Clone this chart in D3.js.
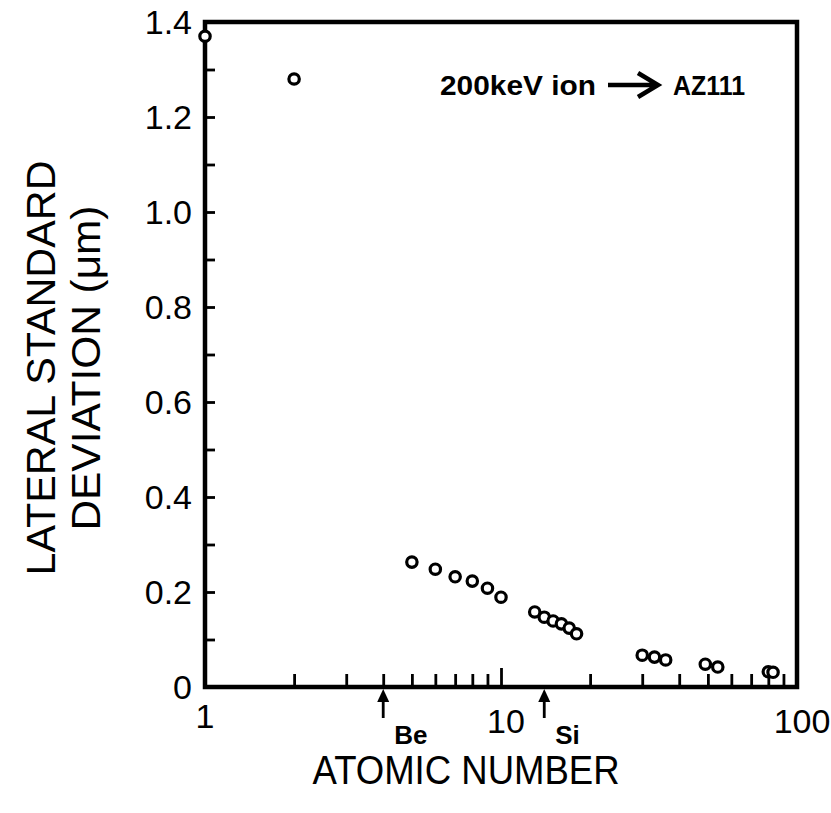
<!DOCTYPE html>
<html>
<head>
<meta charset="utf-8">
<script src="https://cdn.jsdelivr.net/npm/d3@7"></script>
<style>
  html, body { margin: 0; padding: 0; background: #fff; }
  svg { display: block; }
</style>
</head>
<body>
<svg id="chart" width="831" height="813"></svg>
<script>
// Lateral standard deviation of 200 keV ions implanted in AZ111 resist
const atomicNumber = [1, 2, 5, 6, 7, 8, 9, 10, 13, 14, 15, 16, 17, 18, 30, 33, 36, 49, 54, 80, 83];
const lateralStd   = [1.37, 1.28, 0.263, 0.248, 0.232, 0.223, 0.208, 0.189,
                      0.158, 0.147, 0.139, 0.133, 0.124, 0.112,
                      0.067, 0.063, 0.057, 0.048, 0.042, 0.032, 0.031];

const xTickLabels = ["1", "10", "100"];
const yTickLabels = ["0", "0.2", "0.4", "0.6", "0.8", "1.0", "1.2", "1.4"];
const markedElements = [{ name: "Be", z: 4 }, { name: "Si", z: 14 }];

const svg = d3.select("#chart");
const fontLight = "'Liberation Sans', Arial, sans-serif";

const x = d3.scaleLog().domain([1, 100]).range([205, 797]);
const y = d3.scaleLinear().domain([0, 1.4]).range([687, 22]);

svg.append("rect").attr("width", 831).attr("height", 813).attr("fill", "#fff");

// y ticks every 0.1, pointing inward
const yAxis = d3.axisLeft(y)
  .tickValues(d3.range(0, 15).map(i => i / 10))
  .tickSizeInner(-10).tickSizeOuter(0).tickFormat("");
svg.append("g").attr("transform", `translate(${x.range()[0]},0)`).call(yAxis)
  .call(g => g.select(".domain").remove())
  .call(g => g.selectAll("line").attr("stroke", "#000").attr("stroke-width", 2.8));

// x ticks: minor logarithmic ticks inward, longer at 10
const xMinor = [2,3,4,5,6,7,8,9,20,30,40,50,60,70,80,90];
const xMinorAxis = d3.axisBottom(x).tickValues(xMinor)
  .tickSizeInner(-13).tickSizeOuter(0).tickFormat("");
svg.append("g").attr("transform", `translate(0,${y(0)})`).call(xMinorAxis)
  .call(g => g.select(".domain").remove())
  .call(g => g.selectAll("line").attr("stroke", "#000").attr("stroke-width", 2.8));
const xMajorAxis = d3.axisBottom(x).tickValues([10])
  .tickSizeInner(-19).tickSizeOuter(0).tickFormat("");
svg.append("g").attr("transform", `translate(0,${y(0)})`).call(xMajorAxis)
  .call(g => g.select(".domain").remove())
  .call(g => g.selectAll("line").attr("stroke", "#000").attr("stroke-width", 2.8));

// frame
svg.append("rect")
  .attr("x", x(1)).attr("y", y(1.4))
  .attr("width", x(100) - x(1)).attr("height", y(0) - y(1.4))
  .attr("fill", "none").attr("stroke", "#000").attr("stroke-width", 4.5);

// y tick labels
svg.append("g").selectAll("text").data(yTickLabels).join("text")
  .attr("x", 192).attr("y", d => y(+d) + 12)
  .attr("text-anchor", "end")
  .attr("font-family", fontLight).attr("font-size", 34)
  .text(d => d);

// x tick labels
svg.append("g").selectAll("text").data(xTickLabels).join("text")
  .attr("x", d => x(+d) + (d === "1" ? 0 : 5))
  .attr("y", d => d === "1" ? 728 : 733)
  .attr("text-anchor", "middle")
  .attr("font-family", fontLight).attr("font-size", 34)
  .text(d => d);

// arrows marking Be and Si
const marks = svg.append("g");
markedElements.forEach(m => {
  const cx = x(m.z);
  marks.append("line").attr("x1", cx).attr("x2", cx)
    .attr("y1", 697).attr("y2", 718)
    .attr("stroke", "#000").attr("stroke-width", 2.8);
  marks.append("path")
    .attr("d", `M${cx},689 L${cx - 6},702 L${cx + 6},702 Z`)
    .attr("fill", "#000");
  marks.append("text")
    .attr("x", cx + 11).attr("y", 744)
    .attr("font-family", fontLight).attr("font-weight", "bold").attr("font-size", 26)
    .text(m.name);
});

// data points
svg.append("g").selectAll("circle").data(atomicNumber).join("circle")
  .attr("cx", d => x(d))
  .attr("cy", (d, i) => y(lateralStd[i]))
  .attr("r", 5.2)
  .attr("fill", "#fff").attr("stroke", "#000").attr("stroke-width", 3.2);

// annotation
const ann = svg.append("g").attr("font-family", fontLight).attr("font-weight", "bold").attr("font-size", 27);
ann.append("text").attr("x", 440).attr("y", 95)
  .attr("textLength", 156).attr("lengthAdjust", "spacingAndGlyphs").text("200keV ion");
ann.append("path")
  .attr("d", "M608,85 L654,85 M638,73 L658,85 L638,97")
  .attr("fill", "none").attr("stroke", "#000").attr("stroke-width", 4.5)
  .attr("stroke-linejoin", "miter");
ann.append("text").attr("x", 673).attr("y", 95)
  .attr("textLength", 72).attr("lengthAdjust", "spacingAndGlyphs").text("AZ111");

// axis titles
svg.append("text")
  .attr("x", 466).attr("y", 784).attr("text-anchor", "middle")
  .attr("font-family", fontLight).attr("font-size", 40)
  .attr("textLength", 307).attr("lengthAdjust", "spacingAndGlyphs")
  .text("ATOMIC NUMBER");

const yTitle = svg.append("g").attr("font-family", fontLight).attr("font-size", 40)
  .attr("text-anchor", "middle");
yTitle.append("text")
  .attr("transform", "translate(55,368) rotate(-90)")
  .attr("textLength", 415).attr("lengthAdjust", "spacingAndGlyphs")
  .text("LATERAL STANDARD");
yTitle.append("text")
  .attr("transform", "translate(100,368) rotate(-90)")
  .attr("textLength", 325).attr("lengthAdjust", "spacingAndGlyphs")
  .text("DEVIATION (μm)");
</script>
</body>
</html>
